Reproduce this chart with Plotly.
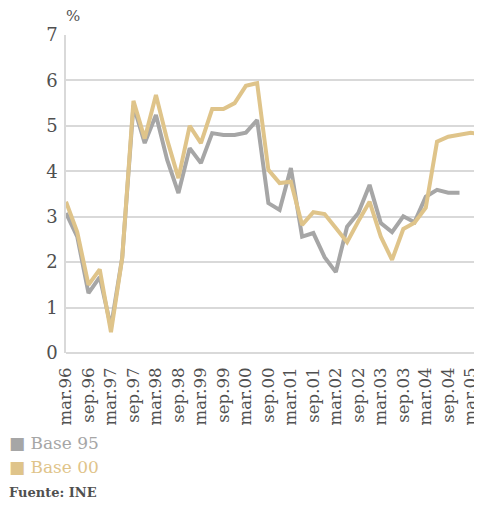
import plotly.graph_objects as go

# trimestres mar.96 - jun.05
quarters = [f"{m}.{y:02d}" for y in [96, 97, 98, 99, 0, 1, 2, 3, 4, 5]
            for m in ["mar", "jun", "sep", "dic"]][:38]
tick_labels = [q for q in quarters if q.startswith(("mar", "sep"))]

base95 = [3.08, 2.56, 1.32, 1.67, 0.57, 2.1, 5.45, 4.62, 5.24, 4.25, 3.52, 4.51,
          4.18, 4.84, 4.8, 4.8, 4.85, 5.13, 3.3, 3.15, 4.07, 2.56, 2.64, 2.11,
          1.78, 2.78, 3.08, 3.7, 2.86, 2.66, 3.01, 2.88, 3.44, 3.59, 3.53, 3.53]
base00 = [3.33, 2.66, 1.5, 1.84, 0.46, 2.09, 5.55, 4.72, 5.68, 4.69, 3.85, 5.0,
          4.62, 5.37, 5.37, 5.5, 5.88, 5.94, 4.03, 3.74, 3.77, 2.82, 3.1, 3.06,
          2.75, 2.44, 2.9, 3.33, 2.56, 2.05, 2.73, 2.87, 3.2, 4.65, 4.76, 4.8,
          4.85, 4.8]

GRAY = "#a6a6a6"
GOLD = "#dfc48a"
TXT = "#505050"
FONT = "DejaVu Serif"

fig = go.Figure()
fig.add_trace(go.Scatter(x=quarters[:len(base95)], y=base95, mode="lines",
                         line=dict(color=GRAY, width=4), name="Base 95"))
fig.add_trace(go.Scatter(x=quarters, y=base00, mode="lines",
                         line=dict(color=GOLD, width=4), name="Base 00"))

# la página añade 8px de margen al cuerpo: se compensa aquí
fig.update_layout(
    width=482, height=506,
    margin=dict(l=58, r=8, t=27, b=161, autoexpand=False),
    plot_bgcolor="white", paper_bgcolor="white",
    showlegend=False,
    font=dict(family=FONT, color=TXT),
)
fig.update_xaxes(
    type="category", categoryorder="array", categoryarray=quarters,
    range=[0, 37], tickmode="array", tickvals=tick_labels, ticktext=tick_labels,
    tickangle=-90, tickfont=dict(size=16.5, color=TXT), automargin=False,
    showgrid=False, showline=False, zeroline=False,
    ticks="outside", ticklen=7, tickcolor="white",
)
fig.update_yaxes(
    range=[0, 7], dtick=1, tickfont=dict(size=18, color=TXT), automargin=False,
    showgrid=True, gridcolor="#d9d9d9", gridwidth=1.5,
    showline=True, linecolor="#d9d9d9", linewidth=1.5,
    zeroline=True, zerolinecolor="#d9d9d9", zerolinewidth=1.5,
    ticks="outside", ticklen=3, tickcolor="white",
)

# unidad
fig.add_annotation(text="%", x=-2 / 416, y=(353 - 16) / 318, xref="paper", yref="paper",
                   xanchor="left", yanchor="middle", showarrow=False,
                   font=dict(size=15, color=TXT))

# leyenda y fuente
notes = [
    (f"<span style='color:{GRAY}'>■</span> Base 95", GRAY, 443, 17),
    (f"<span style='color:{GOLD}'>■</span> Base 00", GOLD, 467, 17),
    ("<b>Fuente: INE</b>", TXT, 493, 13),
]
for text, color, py, size in notes:
    fig.add_annotation(text=text, x=(7 - 66) / 416, y=(353 - py) / 318,
                       xref="paper", yref="paper", xanchor="left", yanchor="middle",
                       showarrow=False, font=dict(size=size, color=color))

fig.write_html("out.html")
